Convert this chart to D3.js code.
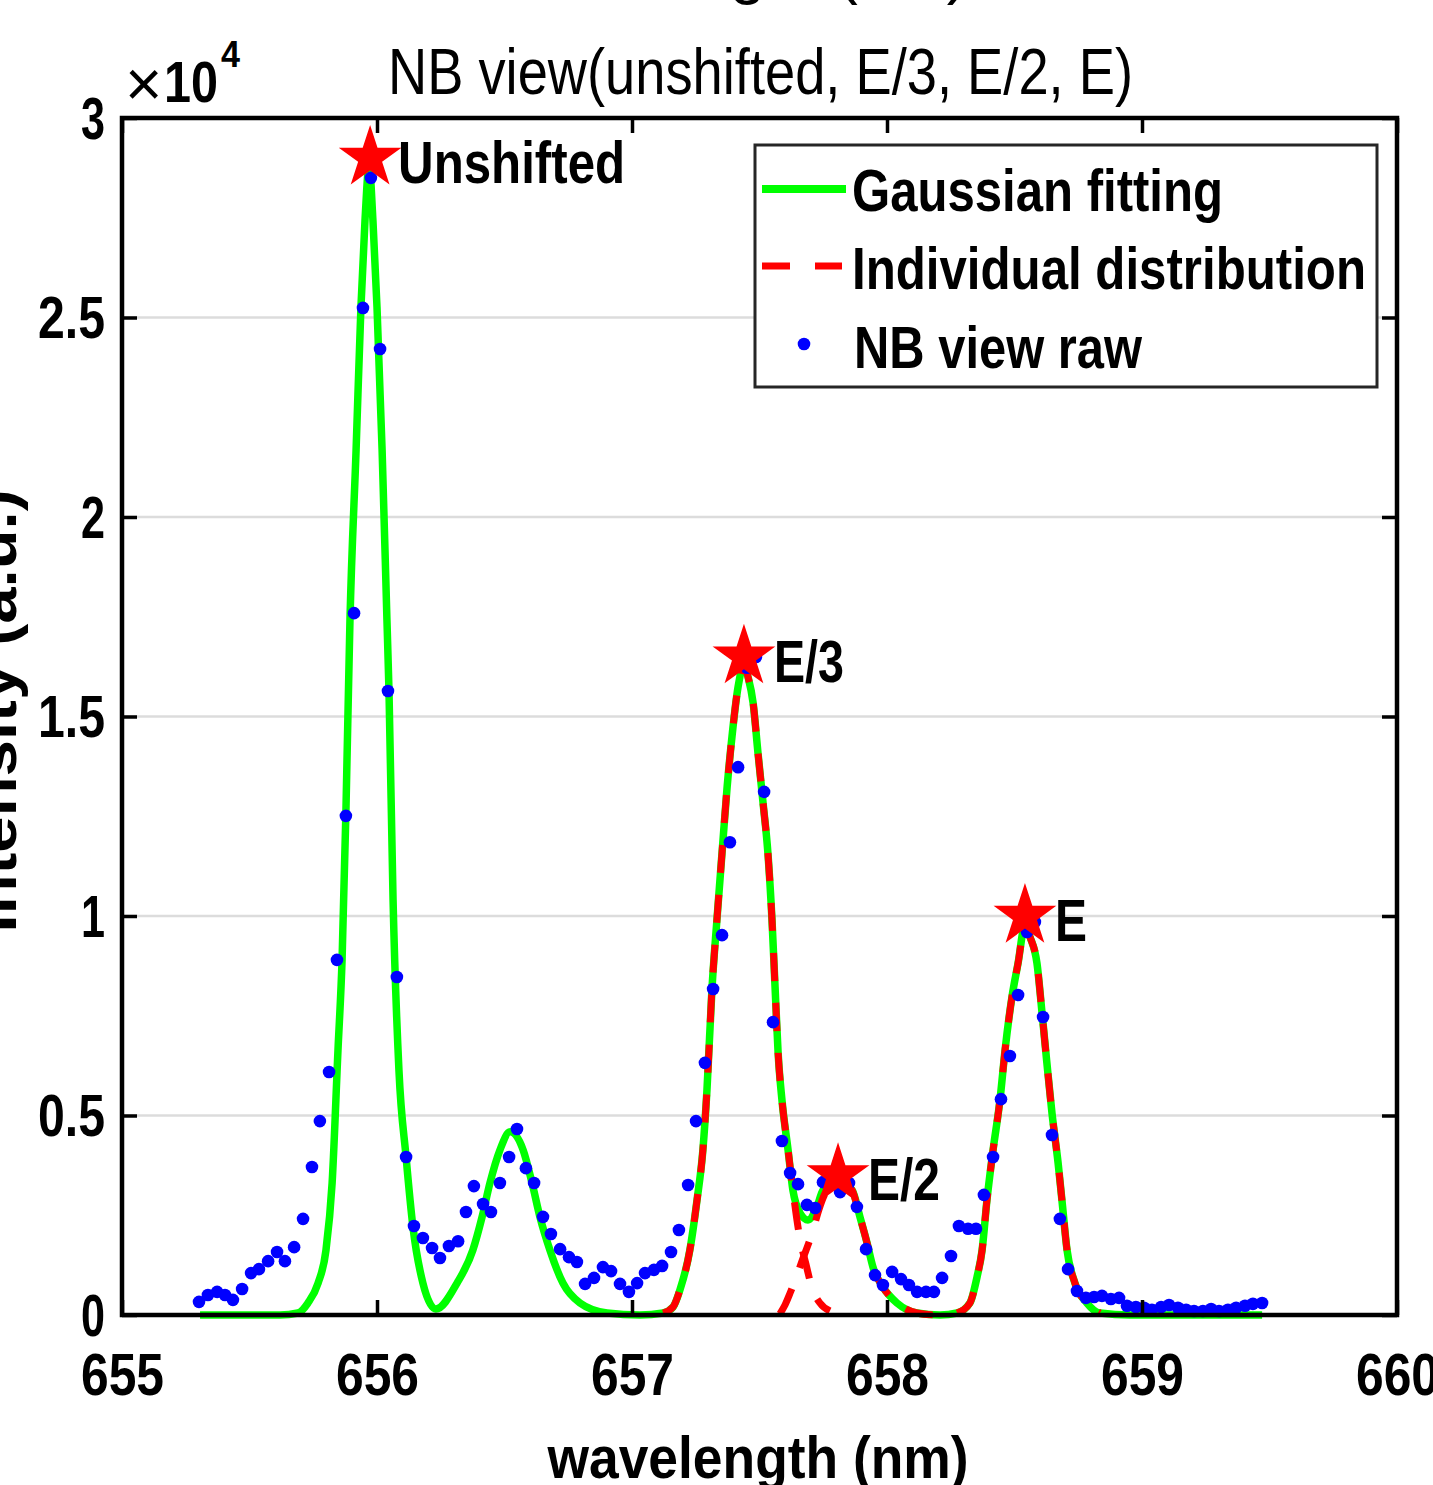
<!DOCTYPE html>
<html>
<head>
<meta charset="utf-8">
<script src="https://cdn.jsdelivr.net/npm/d3@7"></script>
<style>
  html, body { margin: 0; padding: 0; background: #fff; }
  svg { display: block; }
</style>
</head>
<body>
<div id="chart"></div>
<script>
// ---- data (wavelength nm, intensity a.u.) ----
const xTicks = [655, 656, 657, 658, 659, 660];
const yTicks = [0, 5000, 10000, 15000, 20000, 25000, 30000];

// Gaussian fitting (green, solid)
const fitCurve = [
  [655.306, 0], [655.620, 0], [655.690, 50], [655.729, 300], [655.769, 800], [655.800, 1630],
  [655.824, 3310], [655.847, 6640], [655.863, 8900], [655.878, 12580], [655.894, 17420],
  [655.918, 21680], [655.937, 25260], [655.953, 27440], [655.969, 28820], [655.984, 27440],
  [656.000, 25260], [656.020, 21680], [656.039, 17420], [656.047, 15640], [656.063, 10400],
  [656.086, 6140], [656.114, 3960], [656.141, 2205], [656.180, 800], [656.231, 150],
  [656.314, 800], [656.376, 1630], [656.412, 2456], [656.443, 3310], [656.482, 4135],
  [656.522, 4590], [656.573, 4135], [656.608, 3310], [656.639, 2456], [656.678, 1630],
  [656.729, 800], [656.796, 300], [656.902, 50], [657.031, 0], [657.122, 50], [657.161, 200],
  [657.188, 630], [657.227, 1630], [657.255, 2880], [657.278, 4135], [657.294, 5640],
  [657.314, 8220], [657.333, 9900], [657.353, 11580], [657.373, 13230], [657.392, 14490],
  [657.416, 15740], [657.439, 16290], [657.455, 15990], [657.475, 15340], [657.494, 14090],
  [657.514, 12830], [657.533, 11580], [657.549, 9900], [657.561, 8220], [657.573, 6570],
  [657.588, 5390], [657.612, 4135], [657.631, 3130], [657.659, 2556], [657.690, 2380],
  [657.725, 2710], [657.749, 3130], [657.804, 3380], [657.863, 3130], [657.894, 2456],
  [657.922, 1800], [657.945, 1200], [657.984, 700], [658.039, 300], [658.118, 50],
  [658.208, 0], [658.275, 50], [658.325, 300], [658.353, 950], [658.373, 1630],
  [658.392, 2880], [658.416, 4135], [658.443, 5390], [658.463, 6640], [658.490, 7970],
  [658.514, 8820], [658.541, 9770], [658.561, 9470], [658.588, 8820], [658.608, 7570],
  [658.627, 6320], [658.647, 5060], [658.671, 3810], [658.686, 2880], [658.706, 1630],
  [658.737, 800], [658.784, 300], [658.835, 50], [658.953, 0], [659.471, 0]
];

// Individual distributions (red, dashed): E/3, E/2, E components
const compE3 = [
  [657.122, 50], [657.161, 200], [657.188, 630], [657.227, 1630], [657.255, 2880],
  [657.278, 4135], [657.294, 5640], [657.314, 8220], [657.333, 9900], [657.353, 11580],
  [657.373, 13230], [657.392, 14490], [657.416, 15740], [657.439, 16290], [657.455, 15990],
  [657.475, 15340], [657.494, 14090], [657.514, 12830], [657.533, 11580], [657.549, 9900],
  [657.561, 8220], [657.573, 6570], [657.588, 5390], [657.612, 4135], [657.631, 3130],
  [657.659, 1900], [657.682, 1280], [657.706, 680], [657.737, 300], [657.776, 100]
];
const compE2 = [
  [657.580, 30], [657.600, 250], [657.620, 550], [657.647, 1000], [657.671, 1430],
  [657.690, 1750], [657.710, 2130], [657.729, 2560], [657.749, 2930], [657.776, 3260],
  [657.808, 3380], [657.839, 3280], [657.863, 3130], [657.894, 2456], [657.922, 1800],
  [657.945, 1200], [657.984, 700], [658.039, 300], [658.118, 50], [658.188, 0]
];
const compE = [
  [658.275, 50], [658.325, 300], [658.353, 950], [658.373, 1630], [658.392, 2880],
  [658.416, 4135], [658.443, 5390], [658.463, 6640], [658.490, 7970], [658.514, 8820],
  [658.541, 9770], [658.561, 9470], [658.588, 8820], [658.608, 7570], [658.627, 6320],
  [658.647, 5060], [658.671, 3810], [658.686, 2880], [658.706, 1630], [658.737, 800],
  [658.784, 300], [658.835, 50]
];

// NB view raw (blue dots)
const rawPoints = [
  [655.302, 330], [655.337, 500], [655.373, 580], [655.404, 500], [655.435, 380], [655.471, 650],
  [655.506, 1050], [655.537, 1150], [655.573, 1350], [655.608, 1580], [655.639, 1350],
  [655.675, 1700], [655.710, 2410], [655.745, 3710], [655.776, 4860], [655.812, 6090],
  [655.843, 8900], [655.878, 12510], [655.910, 17590], [655.945, 25240], [655.976, 28500],
  [656.012, 24210], [656.043, 15640], [656.078, 8470], [656.114, 3960], [656.145, 2230],
  [656.180, 1930], [656.216, 1680], [656.247, 1430], [656.282, 1730], [656.318, 1850],
  [656.349, 2580], [656.380, 3230], [656.416, 2780], [656.447, 2580], [656.482, 3310],
  [656.518, 3960], [656.549, 4660], [656.584, 3680], [656.616, 3310], [656.651, 2460],
  [656.682, 2030], [656.718, 1650], [656.753, 1450], [656.784, 1330], [656.816, 780],
  [656.851, 930], [656.886, 1200], [656.918, 1100], [656.953, 780], [656.988, 580],
  [657.020, 800], [657.051, 1050], [657.086, 1130], [657.118, 1230], [657.153, 1580],
  [657.184, 2130], [657.220, 3260], [657.251, 4860], [657.286, 6320], [657.318, 8170],
  [657.353, 9520], [657.384, 11850], [657.416, 13730], [657.451, 16220], [657.486, 16490],
  [657.518, 13110], [657.553, 7340], [657.588, 4360], [657.620, 3560], [657.651, 3280],
  [657.686, 2760], [657.718, 2680], [657.749, 3330], [657.784, 3380], [657.816, 3080],
  [657.851, 3310], [657.882, 2710], [657.918, 1650], [657.953, 1000], [657.984, 750],
  [658.020, 1080], [658.055, 900], [658.086, 750], [658.118, 580], [658.153, 580],
  [658.184, 580], [658.216, 930], [658.251, 1480], [658.282, 2230], [658.318, 2160],
  [658.349, 2160], [658.380, 3010], [658.416, 3960], [658.447, 5410], [658.482, 6490],
  [658.514, 8020], [658.549, 9600], [658.580, 9850], [658.612, 7470], [658.647, 4510],
  [658.678, 2410], [658.710, 1150], [658.745, 600], [658.780, 430], [658.812, 450],
  [658.843, 480], [658.878, 400], [658.910, 430], [658.941, 230], [658.976, 200],
  [659.008, 180], [659.039, 130], [659.075, 200], [659.106, 250], [659.141, 180],
  [659.173, 130], [659.204, 100], [659.239, 100], [659.271, 150], [659.302, 100],
  [659.337, 130], [659.369, 180], [659.404, 230], [659.435, 280], [659.471, 300]
];

// peak markers
const peakWl = [655.973, 657.439, 657.808, 658.541];
const peakInt = [29000, 16500, 3500, 10000];
const peakLabels = ['Unshifted', 'E/3', 'E/2', 'E'];

const legendLabels = ['Gaussian fitting', 'Individual distribution', 'NB view raw'];

// ---- layout ----
const W = 1433, H = 1485;
const plot = { left: 122, right: 1397, top: 118, bottom: 1315 };
const FONT = "'Liberation Sans Narrow', 'Arial Narrow', 'Liberation Sans', Arial, sans-serif";
const peakLabelWidths = [227, 70, 72, 32];
const GREEN = '#00ff00', RED = '#ff0000', BLUE = '#0000ff';

const svg = d3.select('#chart').append('svg')
  .attr('width', W).attr('height', H)
  .style('font-family', FONT);

const x = d3.scaleLinear().domain([655, 660]).range([plot.left, plot.right]);
const y = d3.scaleLinear().domain([0, 30000]).range([plot.bottom, plot.top]);

// grid
svg.append('g').selectAll('line')
  .data(yTicks)
  .enter().append('line')
  .attr('x1', plot.left).attr('x2', plot.right)
  .attr('y1', d => y(d)).attr('y2', d => y(d))
  .attr('stroke', '#dcdcdc').attr('stroke-width', 2.5);

// curves
const line = d3.line()
  .x(d => x(d[0]))
  .y(d => y(d[1]))
  .curve(d3.curveMonotoneX);

svg.append('path')
  .datum(fitCurve)
  .attr('d', line)
  .attr('fill', 'none')
  .attr('stroke', GREEN)
  .attr('stroke-width', 7.5)
  .attr('stroke-linejoin', 'round');

svg.append('g').selectAll('path')
  .data([compE3, compE2, compE])
  .enter().append('path')
  .attr('d', line)
  .attr('fill', 'none')
  .attr('stroke', RED)
  .attr('stroke-width', 7)
  .attr('stroke-dasharray', '28,22');

// raw dots
svg.append('g').selectAll('circle')
  .data(rawPoints)
  .enter().append('circle')
  .attr('cx', d => x(d[0]))
  .attr('cy', d => y(d[1]))
  .attr('r', 6.3)
  .attr('fill', BLUE);

// peak stars + labels
const star = d3.symbol().type(d3.symbolStar).size(1222);
svg.append('g').selectAll('path')
  .data(peakWl)
  .enter().append('path')
  .attr('d', star)
  .attr('transform', (d, i) => `translate(${x(d)},${y(peakInt[i])})`)
  .attr('fill', RED);

svg.append('g').selectAll('text')
  .data(peakLabels)
  .enter().append('text')
  .attr('x', (d, i) => x(peakWl[i]) + (i === 0 ? 28 : 30))
  .attr('y', (d, i) => y(peakInt[i]) + 25)
  .attr('font-size', 60)
  .attr('font-weight', 'bold')
  .attr('textLength', (d, i) => peakLabelWidths[i])
  .attr('lengthAdjust', 'spacingAndGlyphs')
  .text(d => d);

// axes
const styleTicks = g => {
  g.attr('font-family', FONT).attr('font-size', 60).attr('font-weight', 'bold');
  g.select('.domain').remove();
  g.selectAll('.tick line').attr('stroke', '#000').attr('stroke-width', 3.5);
  g.selectAll('.tick text').attr('fill', '#000');
};

svg.append('g')
  .attr('transform', `translate(0,${plot.bottom})`)
  .call(d3.axisBottom(x).tickValues(xTicks).tickSizeInner(-15).tickSizeOuter(0)
    .tickPadding(37).tickFormat(d3.format('d')))
  .call(styleTicks)
  .call(g => g.selectAll('.tick text')
    .attr('textLength', 83).attr('lengthAdjust', 'spacingAndGlyphs'));

svg.append('g')
  .attr('transform', `translate(${plot.left},0)`)
  .call(d3.axisLeft(y).tickValues(yTicks).tickSizeInner(-15).tickSizeOuter(0)
    .tickPadding(17).tickFormat(d => String(d / 10000)))
  .call(styleTicks)
  .call(g => g.selectAll('.tick text')
    .attr('dy', '0.34em')
    .attr('textLength', d => String(d / 10000).length > 1 ? 67 : 24)
    .attr('lengthAdjust', 'spacingAndGlyphs'));

svg.append('g')
  .attr('transform', `translate(0,${plot.top})`)
  .call(d3.axisTop(x).tickValues(xTicks).tickSizeInner(-15).tickSizeOuter(0).tickFormat(''))
  .call(styleTicks);

svg.append('g')
  .attr('transform', `translate(${plot.right},0)`)
  .call(d3.axisRight(y).tickValues(yTicks).tickSizeInner(-15).tickSizeOuter(0).tickFormat(''))
  .call(styleTicks);

// axes box
svg.append('rect')
  .attr('x', plot.left).attr('y', plot.top)
  .attr('width', plot.right - plot.left).attr('height', plot.bottom - plot.top)
  .attr('fill', 'none').attr('stroke', '#000').attr('stroke-width', 4.5);

// exponent label
const expo = svg.append('g');
expo.append('text').attr('x', 125).attr('y', 106)
  .attr('font-size', 64).attr('font-family', "'Liberation Sans', Arial, sans-serif")
  .text('\u00d7');
expo.append('text').attr('x', 164).attr('y', 102)
  .attr('font-size', 58).attr('font-weight', 'bold')
  .attr('textLength', 54).attr('lengthAdjust', 'spacingAndGlyphs')
  .text('10');
expo.append('text').attr('x', 221).attr('y', 67)
  .attr('font-size', 37).attr('font-weight', 'bold')
  .attr('textLength', 19).attr('lengthAdjust', 'spacingAndGlyphs')
  .text('4');

// titles
svg.append('text')
  .attr('x', 968).attr('y', -8)
  .attr('text-anchor', 'end')
  .attr('font-size', 64)
  .text('Stark fitting 1 (NB)');

svg.append('text')
  .attr('x', 388).attr('y', 94)
  .attr('font-size', 64)
  .attr('textLength', 745).attr('lengthAdjust', 'spacingAndGlyphs')
  .text('NB view(unshifted, E/3, E/2, E)');

svg.append('text')
  .attr('x', 758).attr('y', 1478)
  .attr('text-anchor', 'middle')
  .attr('font-size', 60).attr('font-weight', 'bold')
  .attr('textLength', 421).attr('lengthAdjust', 'spacingAndGlyphs')
  .text('wavelength (nm)');

svg.append('text')
  .attr('transform', 'translate(16,711) rotate(-90)')
  .attr('text-anchor', 'middle')
  .attr('font-size', 60).attr('font-weight', 'bold')
  .attr('textLength', 443).attr('lengthAdjust', 'spacingAndGlyphs')
  .text('Intensity (a.u.)');

// legend
const lg = svg.append('g');
lg.append('rect')
  .attr('x', 755).attr('y', 145).attr('width', 622).attr('height', 242)
  .attr('fill', '#fff').attr('stroke', '#262626').attr('stroke-width', 3);

const rowY = [189, 266, 344];
const textY = [211, 289, 368];
const textW = [371, 514, 288];

lg.append('line').attr('x1', 762).attr('x2', 846).attr('y1', rowY[0]).attr('y2', rowY[0])
  .attr('stroke', GREEN).attr('stroke-width', 8);
lg.append('line').attr('x1', 762).attr('x2', 842).attr('y1', rowY[1]).attr('y2', rowY[1])
  .attr('stroke', RED).attr('stroke-width', 7).attr('stroke-dasharray', '28,25');
lg.append('circle').attr('cx', 804).attr('cy', rowY[2]).attr('r', 6.3).attr('fill', BLUE);

lg.selectAll('text.lbl')
  .data(legendLabels)
  .enter().append('text')
  .attr('class', 'lbl')
  .attr('x', (d, i) => i === 2 ? 854 : 852)
  .attr('y', (d, i) => textY[i])
  .attr('font-size', 60).attr('font-weight', 'bold')
  .attr('textLength', (d, i) => textW[i]).attr('lengthAdjust', 'spacingAndGlyphs')
  .text(d => d);
</script>
</body>
</html>
